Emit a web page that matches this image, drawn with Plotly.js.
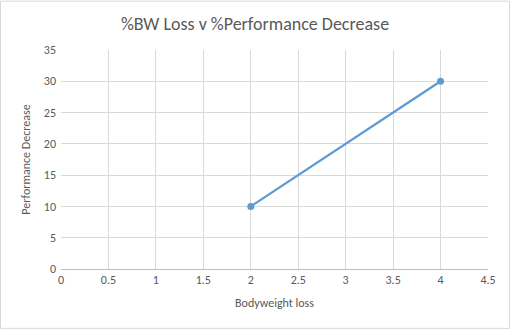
<!DOCTYPE html>
<html>
<head>
<meta charset="utf-8">
<script src="https://cdn.plot.ly/plotly-3.0.1.min.js"></script>
<style>
html,body{margin:0;padding:0;background:#fff;}
#chart{width:510px;height:329px;}
</style>
</head>
<body>
<div id="chart"></div>
<script>
const bodyweightLoss = [2, 4];
const performanceDecrease = [10, 30];
const xTicks = [0, 0.5, 1, 1.5, 2, 2.5, 3, 3.5, 4, 4.5];
const yTicks = [0, 5, 10, 15, 20, 25, 30, 35];

const fontFam = "Carlito, Calibri, 'Liberation Sans', sans-serif";
const L = 61, R = 22, T = 49.5, B = 60;
const pw = 510 - L - R, ph = 329 - T - B;

Plotly.newPlot('chart', [{
  x: bodyweightLoss,
  y: performanceDecrease,
  type: 'scatter',
  mode: 'lines+markers',
  line: {color: '#5B9BD5', width: 2.25},
  marker: {color: '#5B9BD5', size: 7},
  hoverinfo: 'none'
}], {
  width: 510, height: 329,
  margin: {l: L, r: R, t: T, b: B},
  paper_bgcolor: '#fff', plot_bgcolor: '#fff',
  showlegend: false,
  font: {family: fontFam, color: '#595959', size: 12},
  title: {text: '%BW Loss v %Performance Decrease', font: {size: 18, color: '#595959', family: fontFam}, x: 0.5, xanchor: 'center', y: 1 - 24/329, yanchor: 'middle'},
  xaxis: {
    range: [0, 4.5], tickvals: xTicks, ticktext: xTicks.map(String),
    showgrid: true, gridcolor: '#D9D9D9', gridwidth: 1,
    zeroline: false, showline: true, linecolor: '#BFBFBF', linewidth: 1,
    ticks: '', tickfont: {size: 12, color: '#595959'},
    title: {text: 'Bodyweight loss', font: {size: 12, color: '#595959'}, standoff: 12}
  },
  yaxis: {
    range: [0, 35], tickvals: yTicks, ticktext: yTicks.map(String),
    showgrid: true, gridcolor: '#D9D9D9', gridwidth: 1,
    zeroline: false, showline: false,
    ticks: '', ticklabelstandoff: 4, tickfont: {size: 12, color: '#595959'},
    title: {text: 'Performance Decrease', font: {size: 12, color: '#595959'}, standoff: 10}
  },
  shapes: [{
    type: 'rect', xref: 'paper', yref: 'paper',
    x0: (0.5 - L) / pw, x1: (509.5 - L) / pw,
    y0: -(B - 0.5) / ph, y1: 1 + (T - 0.5) / ph,
    line: {color: '#D9D9D9', width: 1}, fillcolor: 'rgba(0,0,0,0)', layer: 'below'
  }]
}, {displayModeBar: false, staticPlot: true});
</script>
</body>
</html>
